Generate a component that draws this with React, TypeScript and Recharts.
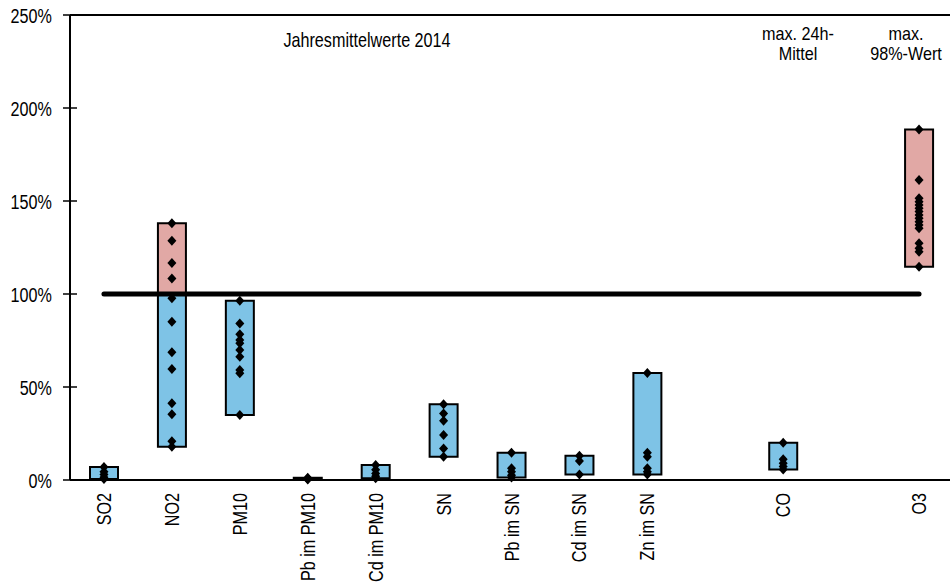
import React from "react";
import {
  Bar,
  ComposedChart,
  Customized,
  ReferenceLine,
  Scatter,
  XAxis,
  YAxis,
} from "recharts";

// Kategorien (gap1/gap2 sind leere Plätze auf der Achse)
const categories = [
  "SO2",
  "NO2",
  "PM10",
  "Pb im PM10",
  "Cd im PM10",
  "SN",
  "Pb im SN",
  "Cd im SN",
  "Zn im SN",
  "gap1",
  "CO",
  "gap2",
  "O3",
];

// Einzelwerte je Station, in % des Grenzwerts
const so2 = [7, 4.5, 3, 1.5, 0.5];
const no2 = [138, 128.6, 116.7, 108.4, 97.7, 85.1, 68.7, 59.7, 41.2, 35.3, 20.8, 17.9];
const pm10 = [96.4, 84.2, 78.3, 75.3, 73.5, 69.9, 66.3, 59.1, 57.4, 34.9];
const pbPm10 = [1.2, 0.8, 0.5, 0.3];
const cdPm10 = [8, 5.5, 3.5, 2, 1];
const sn = [40.7, 35.8, 31.9, 24.2, 17, 12.5];
const pbSn = [14.7, 6.3, 4.5, 2.5, 1.3];
const cdSn = [13, 10.2, 3];
const znSn = [57.5, 14.7, 12.5, 6.3, 4.5, 3];
const co = [20, 11.1, 9, 7.2, 5.7];
const o3 = [
  188.5, 161.3, 151.5, 149.6, 147.8, 146.1, 144.3, 142.5, 140.7, 138.9, 137.1,
  135.3, 127.3, 124.6, 122.7, 114.7,
];

const pointsByCategory: Record<string, number[]> = {
  SO2: so2,
  NO2: no2,
  PM10: pm10,
  "Pb im PM10": pbPm10,
  "Cd im PM10": cdPm10,
  SN: sn,
  "Pb im SN": pbSn,
  "Cd im SN": cdSn,
  "Zn im SN": znSn,
  CO: co,
  O3: o3,
};

const yTicks = [0, 50, 100, 150, 200, 250];
const LIMIT = 100;

const BLUE = "#7EC3E6";
const PINK = "#E1A8A5";
const FONT = "'Liberation Sans', Arial, sans-serif";
const FS = 19.5;
const SX = 0.83; // schmale Schrift nachbilden

const barData = categories.map((name) => {
  const pts = pointsByCategory[name];
  if (!pts) return { name, base: null, blue: null, pink: null };
  const lo = Math.min(...pts);
  const hi = Math.max(...pts);
  const blue = lo < LIMIT ? Math.min(hi, LIMIT) - lo : 0;
  const pink = hi > LIMIT ? hi - Math.max(lo, LIMIT) : 0;
  return { name, base: lo, blue, pink };
});

const pointData = Object.entries(pointsByCategory).flatMap(([name, pts]) =>
  pts.map((v) => ({ name, v }))
);

const Diamond = (props: any) => {
  const { cx, cy } = props;
  if (cx == null || cy == null) return null;
  return (
    <polygon
      points={`${cx},${cy - 5} ${cx + 4.5},${cy} ${cx},${cy + 5} ${cx - 4.5},${cy}`}
      fill="#000"
    />
  );
};

const YTick = (props: any) => {
  const { y, payload } = props;
  return (
    <g>
      <line x1={63} x2={77} y1={y} y2={y} stroke="#000" strokeWidth={1.5} />
      <text
        transform={`translate(52,${y}) scale(${SX},1)`}
        textAnchor="end"
        dy={7.5}
        fontSize={FS}
        fontFamily={FONT}
        fill="#000"
      >
        {`${payload.value}%`}
      </text>
    </g>
  );
};

const XTick = (props: any) => {
  const { x, y, payload } = props;
  if (String(payload.value).startsWith("gap")) return null;
  return (
    <text
      transform={`translate(${x},${y + 5}) rotate(-90) scale(${SX},1)`}
      textAnchor="end"
      dy={7}
      fontSize={FS}
      fontFamily={FONT}
      fill="#000"
    >
      {payload.value}
    </text>
  );
};

const Label = ({
  x,
  y,
  size = FS,
  sx = SX,
  children,
}: {
  x: number;
  y: number;
  size?: number;
  sx?: number;
  children: string;
}) => (
  <text
    transform={`translate(${x},${y}) scale(${sx},1)`}
    textAnchor="middle"
    fontSize={size}
    fontFamily={FONT}
    fill="#000"
  >
    {children}
  </text>
);

const Annotations = () => (
  <g>
    <Label x={367} y={47}>Jahresmittelwerte 2014</Label>
    <Label x={798} y={39.5} size={18} sx={0.9}>max. 24h-</Label>
    <Label x={798} y={59.5} size={18} sx={0.9}>Mittel</Label>
    <Label x={906} y={39.5} size={18} sx={0.9}>max.</Label>
    <Label x={906} y={59.5} size={18} sx={0.9}>98%-Wert</Label>
  </g>
);

export default function App() {
  return (
    <div style={{ position: "absolute", left: 0, top: 0, background: "#fff" }}>
      <ComposedChart
        width={950}
        height={583}
        data={barData}
        margin={{ top: 15, right: -3, bottom: 0, left: 0 }}
      >
        <XAxis
          dataKey="name"
          type="category"
          allowDuplicatedCategory={false}
          height={103}
          tickLine={false}
          axisLine={{ stroke: "#000", strokeWidth: 2 }}
          tick={<XTick />}
          interval={0}
        />
        <YAxis
          type="number"
          domain={[0, 250]}
          ticks={yTicks}
          width={70}
          tickLine={false}
          axisLine={{ stroke: "#000", strokeWidth: 2 }}
          tick={<YTick />}
          interval={0}
        />
        <ReferenceLine y={250} stroke="#000" strokeWidth={2} />
        <Bar dataKey="base" stackId="r" fill="transparent" barSize={28} isAnimationActive={false} />
        <Bar
          dataKey="blue"
          stackId="r"
          fill={BLUE}
          stroke="#000"
          strokeWidth={2}
          barSize={28}
          isAnimationActive={false}
        />
        <Bar
          dataKey="pink"
          stackId="r"
          fill={PINK}
          stroke="#000"
          strokeWidth={2}
          barSize={28}
          isAnimationActive={false}
        />
        <ReferenceLine
          segment={[
            { x: "SO2", y: LIMIT },
            { x: "O3", y: LIMIT },
          ]}
          stroke="#000"
          strokeWidth={5}
          strokeLinecap="round"
        />
        <Scatter data={pointData} dataKey="v" shape={<Diamond />} isAnimationActive={false} />
        <Customized component={Annotations} />
      </ComposedChart>
    </div>
  );
}
